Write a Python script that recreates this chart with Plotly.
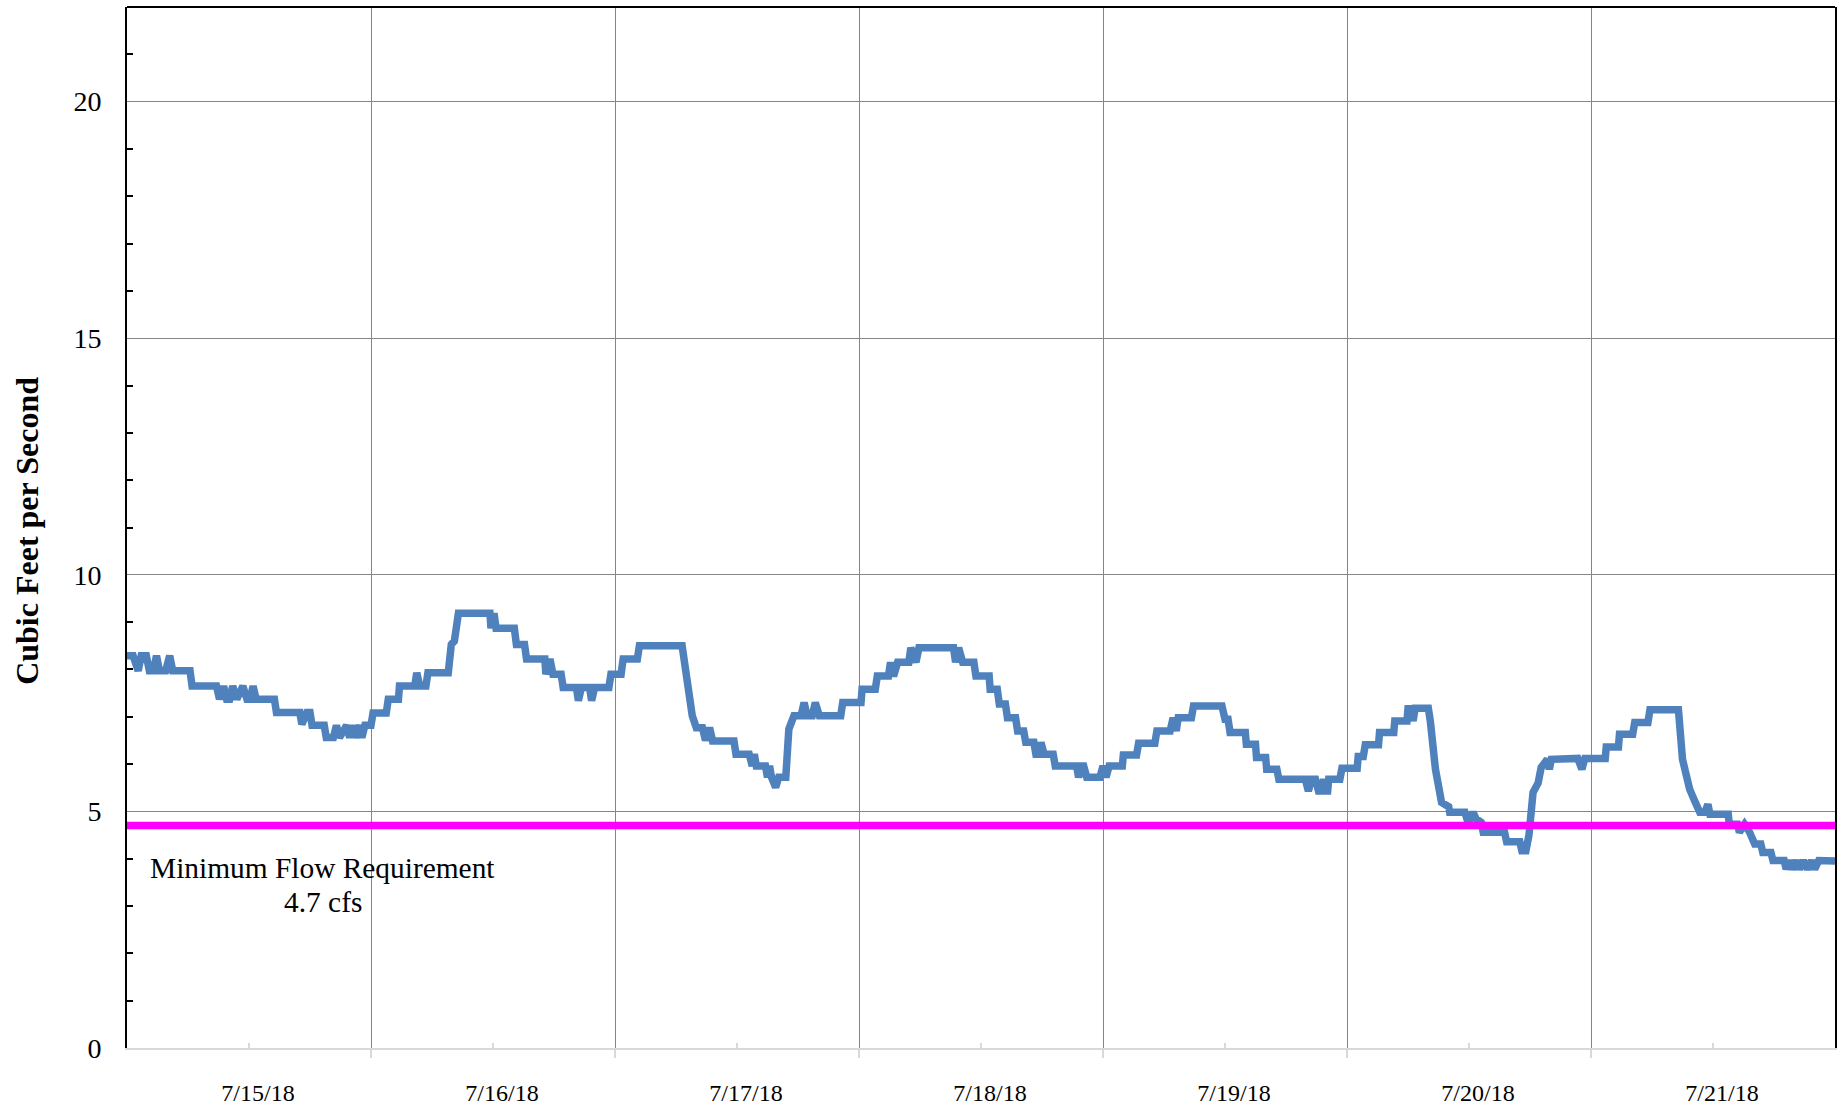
import pandas as pd
import plotly.graph_objects as go

# ---------------- data ----------------
start_time = "2018-07-14 12:00"
end_time = "2018-07-21 12:00"

# hours since start_time, and flow in cfs
flow_hours = [
    0.0, 0.6, 1.1, 1.4, 1.9, 2.2, 2.6, 2.9, 3.2, 3.8, 4.2, 4.5, 6.2, 6.4, 8.8, 9.1, 9.5, 9.8,
    10.1, 10.4, 10.8, 11.4, 11.8, 12.1, 12.4, 12.7, 14.5, 14.7, 17.0, 17.2, 17.7, 18.0, 18.2,
    19.4, 19.6, 20.3, 20.6, 20.9, 21.6, 21.9, 22.2, 22.5, 22.9, 23.1, 23.4, 24.0, 24.2, 25.5,
    25.7, 26.7, 26.8, 28.3, 28.5, 28.8, 29.4, 29.6, 31.6, 31.9, 32.2, 32.6, 35.7, 35.8, 36.1,
    36.3, 38.1, 38.3, 39.1, 39.3, 41.1, 41.2, 41.6, 41.9, 42.7, 42.9, 44.2, 44.4, 44.7, 45.5,
    45.7, 46.0, 47.4, 47.6, 48.6, 48.8, 50.2, 50.4, 54.6, 55.0, 55.3, 55.6, 56.0, 56.6, 56.9,
    57.3, 57.6, 59.7, 59.9, 61.2, 61.5, 61.7, 61.9, 62.8, 63.0, 63.2, 63.4, 63.8, 64.1, 64.8,
    65.1, 65.6, 66.3, 66.6, 66.9, 67.4, 67.7, 68.1, 70.2, 70.4, 72.2, 72.3, 73.6, 73.8, 74.9,
    75.1, 75.4, 75.8, 76.9, 77.1, 77.6, 77.9, 81.3, 81.5, 81.8, 82.2, 83.3, 83.5, 84.8, 84.9,
    85.6, 85.8, 86.4, 86.6, 87.4, 87.6, 88.2, 88.4, 89.2, 89.4, 89.7, 89.9, 90.2, 91.1, 91.3,
    93.4, 93.6, 93.9, 94.1, 94.4, 95.7, 96.0, 96.3, 96.6, 97.9, 98.0, 99.3, 99.5, 101.1, 101.3,
    102.6, 102.9, 103.2, 103.4, 104.7, 104.9, 107.7, 108.0, 108.3, 108.5, 110.0, 110.1, 111.0,
    111.1, 112.0, 112.1, 113.1, 113.3, 115.9, 116.2, 116.5, 116.9, 117.2, 117.5, 117.7, 117.9,
    118.1, 118.2, 119.3, 119.5, 121.0, 121.1, 121.6, 121.8, 123.1, 123.2, 124.6, 124.7, 125.9,
    126.0, 126.3, 126.5, 126.7, 128.0, 128.2, 128.7, 129.3, 130.0, 130.1, 131.6, 131.8, 132.1,
    132.4, 132.7, 133.2, 133.4, 135.5, 135.7, 137.0, 137.2, 137.6, 137.9, 138.3, 138.8, 139.1,
    139.5, 139.7, 139.9, 140.1, 142.7, 143.1, 143.4, 145.4, 145.5, 146.7, 146.8, 148.1, 148.3,
    149.6, 149.8, 152.6, 153.0, 153.7, 154.2, 154.7, 155.2, 155.5, 155.7, 157.5, 157.6, 158.4,
    158.6, 159.1, 159.6, 160.1, 160.7, 160.9, 161.7, 161.9, 163.0, 163.2, 163.5, 163.8, 164.2,
    164.5, 164.9, 165.3, 165.7, 166.0, 166.4, 168.0,
]
flow_cfs = [
    8.29, 8.29, 7.97, 8.29, 8.29, 7.97, 7.97, 8.29, 7.97, 7.97, 8.29, 7.97, 7.97, 7.65, 7.65, 7.37, 7.65, 7.37,
    7.37, 7.65, 7.37, 7.65, 7.37, 7.37, 7.65, 7.37, 7.37, 7.09, 7.09, 6.84, 7.09, 7.09, 6.82,
    6.82, 6.56, 6.56, 6.82, 6.56, 6.82, 6.56, 6.82, 6.56, 6.82, 6.56, 6.82, 6.82, 7.08, 7.08,
    7.37, 7.37, 7.65, 7.65, 7.93, 7.65, 7.65, 7.93, 7.93, 8.53, 8.60, 9.19, 9.19, 8.87, 9.19,
    8.87, 8.87, 8.53, 8.53, 8.22, 8.22, 7.90, 8.22, 7.90, 7.90, 7.62, 7.62, 7.34, 7.62, 7.62,
    7.34, 7.62, 7.62, 7.90, 7.90, 8.22, 8.22, 8.50, 8.50, 7.93, 7.45, 7.02, 6.77, 6.77, 6.50,
    6.77, 6.49, 6.49, 6.21, 6.21, 5.96, 6.21, 5.96, 5.96, 5.72, 5.96, 5.72, 5.51, 5.72, 5.72,
    6.74, 7.02, 7.02, 7.30, 7.02, 7.02, 7.30, 7.02, 7.02, 7.30, 7.30, 7.58, 7.58, 7.86, 7.86,
    8.15, 7.86, 8.15, 8.15, 8.46, 8.15, 8.46, 8.46, 8.15, 8.46, 8.15, 8.15, 7.86, 7.86, 7.58,
    7.58, 7.27, 7.27, 6.98, 6.98, 6.70, 6.70, 6.46, 6.46, 6.21, 6.21, 6.46, 6.21, 6.21, 5.96,
    5.96, 5.72, 5.96, 5.96, 5.72, 5.72, 5.96, 5.72, 5.96, 5.96, 6.19, 6.19, 6.44, 6.44, 6.70,
    6.70, 6.98, 6.70, 6.98, 6.98, 7.23, 7.23, 6.95, 6.95, 6.67, 6.67, 6.42, 6.42,
    6.14, 6.14, 5.89, 5.89, 5.68, 5.68, 5.43, 5.68, 5.68, 5.43, 5.43, 5.68, 5.43,
    5.43, 5.68, 5.68, 5.91, 5.91, 6.16, 6.16, 6.41, 6.41, 6.67, 6.67, 6.91, 6.91,
    7.17, 7.17, 6.91, 7.18, 7.18, 6.90, 5.89, 5.19, 5.10, 4.98, 4.98, 4.84, 4.84,
    4.98, 4.84, 4.77, 4.56, 4.56, 4.36, 4.36, 4.17, 4.17, 4.50, 5.40, 5.60, 5.93,
    6.10, 6.10, 5.89, 6.10, 6.12, 5.89, 6.12, 6.12, 6.36, 6.36, 6.63, 6.63, 6.88,
    6.88, 7.15, 7.15, 6.10, 5.47, 5.22, 4.98, 4.98, 5.15, 4.94, 4.94, 4.73, 4.73,
    4.56, 4.73, 4.56, 4.31, 4.31, 4.13, 4.13, 3.96, 3.96, 3.78, 3.96, 3.78, 3.96,
    3.78, 3.96, 3.78, 3.96, 3.78, 3.96, 3.95,
]

min_flow_cfs = 4.7
min_flow_label = "Minimum Flow Requirement"
min_flow_value_label = "4.7 cfs"
y_title = "Cubic Feet per Second"
label_time = "2018-07-15 07:15"

# ---------------- figure ----------------
t0 = pd.Timestamp(start_time)
flow_times = [t0 + pd.Timedelta(hours=h) for h in flow_hours]

fig = go.Figure()
fig.add_trace(go.Scatter(
    x=flow_times, y=flow_cfs, mode="lines",
    line=dict(color="#4F81BD", width=7.5),
    name="Flow", hoverinfo="x+y",
))
fig.add_trace(go.Scatter(
    x=[start_time, end_time], y=[min_flow_cfs, min_flow_cfs], mode="lines",
    line=dict(color="#FF00FF", width=7.5),
    name="Minimum Flow", hoverinfo="y",
))

serif = "Liberation Serif, Times New Roman, serif"
grid_col = "#868686"
axis_light = "#D9D9D9"

fig.update_layout(
    width=1839, height=1108,
    margin=dict(l=127, r=2, t=7, b=59),
    paper_bgcolor="white", plot_bgcolor="white",
    showlegend=False,
    font=dict(family=serif, color="black"),
    xaxis=dict(
        type="date", range=[start_time, end_time],
        tickmode="linear", tick0="2018-07-15", dtick=86400000,
        tickformat="%-m/%-d/%y",
        ticks="inside", ticklen=5, tickwidth=2, tickcolor=axis_light,
        showgrid=False, zeroline=False,
        showline=True, linecolor=axis_light, linewidth=2,
        tickfont=dict(family=serif, size=24, color="black"),
        ticklabelstandoff=22, ticklabelshift=9,
        minor=dict(tick0=start_time, dtick=86400000, ticks="outside",
                   ticklen=8, tickwidth=2, tickcolor=axis_light,
                   showgrid=True, gridcolor=grid_col, gridwidth=1.3),
    ),
    yaxis=dict(
        range=[0, 22], tickmode="linear", tick0=0, dtick=5,
        ticks="", showgrid=True, gridcolor=grid_col, gridwidth=1.3,
        zeroline=False,
        showline=True, linecolor="black", linewidth=2, mirror=True,
        tickfont=dict(family=serif, size=28, color="black"),
        ticklabelstandoff=18,
        minor=dict(dtick=1, ticks="inside", ticklen=6, tickwidth=1.5,
                   tickcolor="black", showgrid=False),
    ),
    shapes=[dict(type="line", xref="paper", yref="paper", x0=0, x1=1, y0=1, y1=1,
                 line=dict(color="black", width=2))],
    annotations=[
        dict(text="<b>" + y_title + "</b>", xref="paper", yref="paper", x=-0.059, y=0.497,
             textangle=-90, showarrow=False, xanchor="center", yanchor="middle",
             font=dict(family=serif, size=32, color="black")),
        dict(text=min_flow_label, xref="x", yref="y", x=label_time, y=3.80,
             showarrow=False, xanchor="center", yanchor="middle",
             font=dict(family=serif, size=29.4, color="black")),
        dict(text=min_flow_value_label, xref="x", yref="y", x=label_time, y=3.08,
             showarrow=False, xanchor="center", yanchor="middle",
             font=dict(family=serif, size=29.4, color="black")),
    ],
)

fig.write_html(
    "out.html",
    config={"displayModeBar": False},
    post_script="document.body.style.margin='0';document.body.style.overflow='hidden';",
)
